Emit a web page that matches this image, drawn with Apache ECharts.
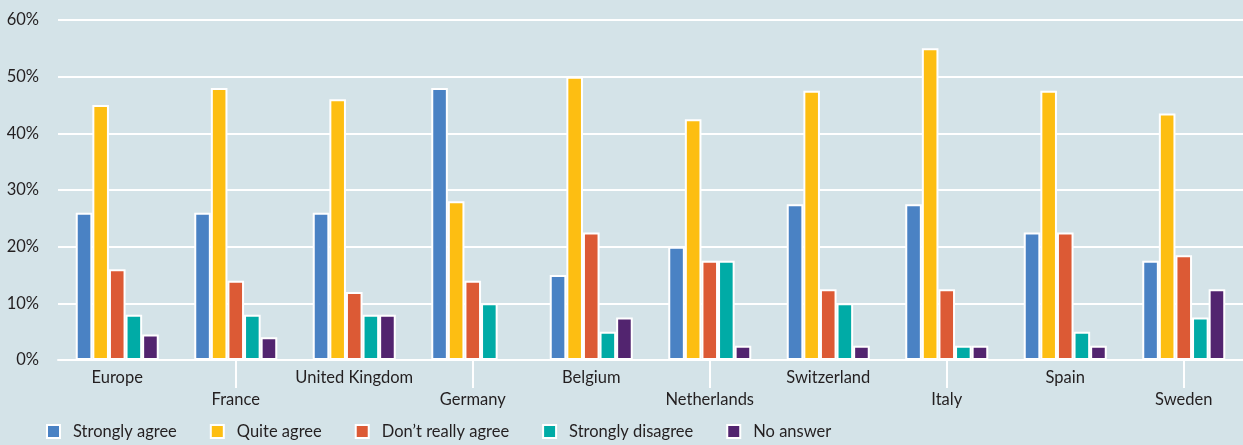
<!DOCTYPE html>
<html>
<head>
<meta charset="utf-8">
<script src="https://cdn.jsdelivr.net/npm/echarts@6/dist/echarts.min.js"></script>
<style>
  html, body { margin: 0; padding: 0; background: #d4e3e8; }
  #chart { width: 1243px; height: 445px; }
</style>
</head>
<body>
<div id="chart"></div>
<script>
// Survey answers by country, share of respondents (%)
const categories = ['Europe', 'France', 'United Kingdom', 'Germany', 'Belgium', 'Netherlands', 'Switzerland', 'Italy', 'Spain', 'Sweden'];
const seriesNames = ['Strongly agree', 'Quite agree', 'Don\u2019t really agree', 'Strongly disagree', 'No answer'];
const stronglyAgree    = [26, 26, 26, 48, 15, 20, 27.5, 27.5, 22.5, 17.5];
const quiteAgree       = [45, 48, 46, 28, 50, 42.5, 47.5, 55, 47.5, 43.5];
const dontReallyAgree  = [16, 14, 12, 14, 22.5, 17.5, 12.5, 12.5, 22.5, 18.5];
const stronglyDisagree = [8, 8, 8, 10, 5, 17.5, 10, 2.5, 5, 7.5];
const noAnswer         = [4.5, 4, 8, 0, 7.5, 2.5, 2.5, 2.5, 2.5, 12.5];
const yTicks = [0, 10, 20, 30, 40, 50, 60];

const colors = ['#4a82c4', '#fdbe12', '#dc5a35', '#00aba6', '#52246f'];
const values = [stronglyAgree, quiteAgree, dontReallyAgree, stronglyDisagree, noAnswer];
const FONT = 'Lato, "Open Sans", sans-serif';
const FS = 16.5;

const chart = echarts.init(document.getElementById('chart'), null, { renderer: 'canvas' });

chart.setOption({
  backgroundColor: '#d4e3e8',
  animation: false,
  textStyle: { fontFamily: FONT, color: '#231f20' },
  grid: { left: 58, right: 0, top: 20, bottom: 85, containLabel: false },
  legend: {
    left: 46,
    top: 423,
    padding: 0,
    itemWidth: 13,
    itemHeight: 13,
    itemGap: 33,
    icon: 'rect',
    data: seriesNames,
    textStyle: { fontFamily: FONT, fontSize: FS, color: '#231f20', padding: [0, 0, 0, 8] }
  },
  xAxis: {
    type: 'category',
    data: categories,
    axisLine: { show: true, lineStyle: { color: '#ffffff', width: 2 } },
    axisTick: {
      show: true,
      alignWithLabel: true,
      interval: (i) => i % 2 === 1,
      length: 28,
      lineStyle: { color: '#ffffff', width: 2 }
    },
    axisLabel: {
      interval: 0,
      margin: 7,
      fontSize: FS,
      lineHeight: 22,
      color: '#231f20',
      fontFamily: FONT,
      formatter: (v, i) => (i % 2 === 1 ? '\n' + v : v)
    }
  },
  yAxis: {
    type: 'value',
    min: yTicks[0],
    max: yTicks[yTicks.length - 1],
    interval: 10,
    axisLine: { show: false },
    axisTick: { show: false },
    splitLine: { lineStyle: { color: '#ffffff', width: 2 } },
    axisLabel: {
      margin: 19,
      fontSize: FS,
      color: '#231f20',
      fontFamily: FONT,
      formatter: '{value}%'
    }
  },
  series: seriesNames.map((name, k) => ({
    name,
    type: 'bar',
    data: values[k],
    barWidth: 16.6,
    barGap: '0%',
    itemStyle: { color: colors[k], borderColor: '#ffffff', borderWidth: 2 }
  }))
});
</script>
</body>
</html>
